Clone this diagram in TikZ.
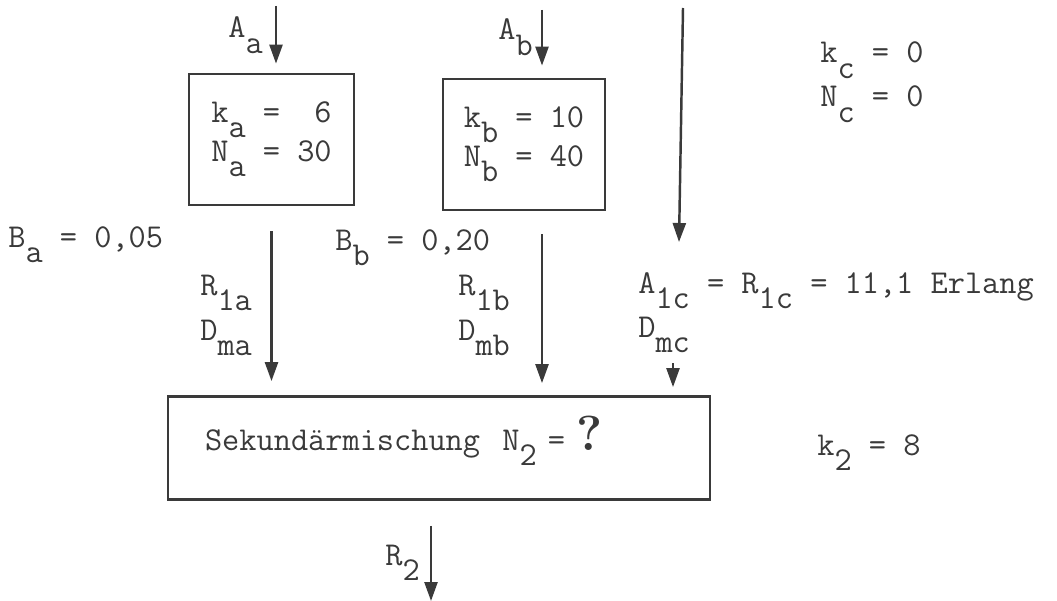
\documentclass[tikz,border=0pt]{standalone}
\usepackage{fontspec}
\usetikzlibrary{arrows.meta,positioning}
\definecolor{ink}{HTML}{3A3A3A}
\newcommand{\sub}[1]{\raisebox{-0.45em}{#1}}

\begin{document}
\begin{tikzpicture}[x=0.02cm,y=-0.02cm,>={Triangle[length=0.38cm,width=0.26cm]},
    font=\ttfamily\fontsize{19}{22}\selectfont,
    every node/.style={text=ink},
    lbl/.style={anchor=base west,inner sep=0pt},
    box/.style={draw=ink,line width=1.6pt,align=left},
    flow/.style={->,draw=ink,line width=1.4pt}]
  \useasboundingbox[fill=white] (0,0) rectangle (1057,601);

  \node[box,minimum width=3.3cm,minimum height=2.62cm] (boxa) at (271.5,139.5)
     {k\sub{a}~=~~6\\N\sub{a}~=~30};
  \node[box,minimum width=3.24cm,minimum height=2.62cm] (boxb) at (524,144.5)
     {k\sub{b}~=~10\\N\sub{b}~=~40};
  \node[box,minimum height=2.06cm,text width=9.36cm,inner xsep=0.74cm] (box2) at (439,448)
     {Sekundärmischung~~N\sub{2}~=~\smash{\rmfamily\bfseries\fontsize{28}{28}\selectfont ?}};

  \node[lbl] (aa) at (228,38) {A\sub{a}};
  \node[lbl] (ab) at (498,40) {A\sub{b}};
  \node[lbl] (kc) at (820,63) {k\sub{c}~=~0};
  \node[lbl] (nc) at (820,107) {N\sub{c}~=~0};
  \node[lbl] (ba) at (8,247) {B\sub{a}~=~0,05};
  \node[lbl] (bb) at (335,250) {B\sub{b}~=~0,20};
  \node[lbl] (r1a) at (200,295) {R\sub{1a}};
  \node[lbl] (dma) at (200,340) {D\sub{ma}};
  \node[lbl] (r1b) at (458,295) {R\sub{1b}};
  \node[lbl] (dmb) at (458,340) {D\sub{mb}};
  \node[lbl] (a1c) at (638,293) {A\sub{1c}~=~R\sub{1c}~=~11,1~Erlang};
  \node[lbl] (dmc) at (638,337) {D\sub{mc}};
  \node[lbl] (k2) at (817,455) {k\sub{2}~=~8};
  \node[lbl] (r2) at (385,565) {R\sub{2}};

  \coordinate (ina) at (276,6);
  \coordinate (inb) at (542,10);
  \coordinate (inc) at (683,8);
  \coordinate (outc) at (679,242);
  \coordinate (inmc) at (673,363);
  \coordinate (outr) at (431,601);

  \draw[flow,shorten >=0.18cm] (ina) -- (ina |- boxa.north);
  \draw[flow,shorten >=0.24cm] (inb) -- (inb |- boxb.north);
  \draw[flow] (inc) -- (outc);
  \draw[flow,shorten <=0.5cm,shorten >=0.28cm] (boxa.south) -- (boxa.south |- box2.north);
  \draw[flow,shorten <=0.46cm,shorten >=0.24cm] (inb |- boxb.south) -- (inb |- box2.north);
  \draw[flow,shorten >=0.16cm] (inmc) -- (inmc |- box2.north);
  \draw[flow,shorten <=0.5cm] (outr |- box2.south) -- (outr);
\end{tikzpicture}
\end{document}
